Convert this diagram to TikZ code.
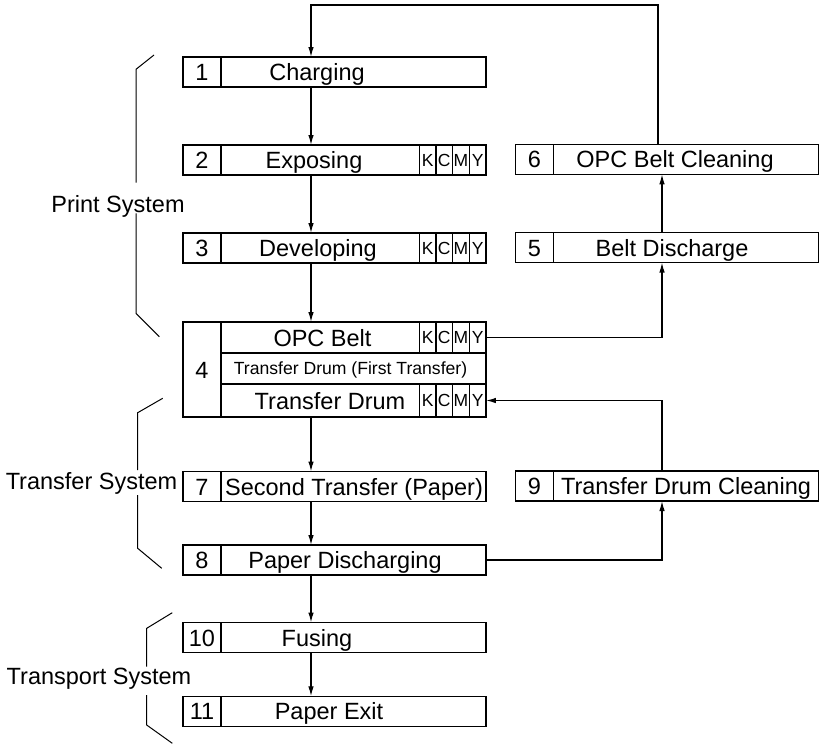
\documentclass[tikz,border=0pt]{standalone}
\usepackage{fontspec}
\setmainfont{Liberation Sans}
\usetikzlibrary{arrows.meta,positioning}

\begin{document}
\begin{tikzpicture}[x=1pt, y=-1pt, line width=1.2pt,
    every node/.style={outer sep=0pt},
    font=\fontsize{23.5}{28}\selectfont,
    lbl/.style={inner sep=0pt, text height=17, text depth=0},
    box/.style={draw, minimum width=303, minimum height=30, inner sep=0pt},
    num/.style={draw, lbl, minimum width=38, minimum height=30, anchor=west},
    row/.style={draw, minimum width=265, inner sep=0pt},
    ink/.style={draw, minimum width=16.67, inner sep=0pt, anchor=north west, font=\fontsize{17.5}{19}\selectfont},
    flow/.style={-{Latex[length=10pt,width=5.5pt]}},
    bracket/.style={line width=1pt}]
  \useasboundingbox (0,0) rectangle (821,747);
  \coordinate (spine) at (311,0);
  \coordinate (rise) at (662,0);
  \coordinate (loop) at (658,5);

  \foreach \n/\x/\y/\tx/\txt in {1/334.5/72/317/Charging, 2/334.5/160/314/Exposing,
      3/334.5/248/318/Developing, 6/667/159.3/675/OPC Belt Cleaning,
      5/667/247.5/672/Belt Discharge, 7/334.5/486.5/354/{Second Transfer (Paper)},
      9/667/486/686/Transfer Drum Cleaning, 8/334.5/560/345/Paper Discharging,
      10/334.5/637.5/317/Fusing, 11/334.5/711.3/329/Paper Exit}{
    \node[box] (b\n) at (\x,\y) {};
    \node[num] (n\n) at (b\n.west) {\n};
    \node[lbl] (t\n) at (\tx,\y) {\txt};
  }

  \node[box, minimum height=95] (b4) at (334.5,369.5) {};
  \node[num, minimum height=95] (n4) at (b4.west) {4};
  \node[row, minimum height=31, anchor=north west] (r4a) at (n4.north east) {};
  \node[row, minimum height=31, below=0pt of r4a] (r4b) {};
  \node[row, minimum height=33, below=0pt of r4b] (r4c) {};
  \node[lbl] (t4a) at (322.5,337.5) {OPC Belt};
  \node[lbl, font=\fontsize{17.6}{20}\selectfont, text height=12.6] (t4b) at (350.5,368.5) {Transfer Drum (First Transfer)};
  \node[lbl] (t4c) at (330,400.5) {Transfer Drum};

  \foreach \r/\yt/\h in {2/145/30, 3/233/30, 4a/322/31, 4c/384/33}
    \foreach \c [count=\i from 0] in {K,C,M,Y}
      \node[ink, minimum height=\h] (k\r\c) at ({419.3+\i*16.67},\yt) {\c};

  \foreach \a/\b in {1/2, 2/3, 3/4, 4/7, 7/8, 8/10, 10/11}
    \draw[flow] (b\a.south -| spine) -- (b\b.north -| spine);

  \draw[flow] (k4aY.east) -| (b5.south -| rise);
  \draw[flow] (b5.north -| rise) -- (b6.south -| rise);
  \draw[flow] (b6.north -| loop) -- (loop) -| (b1.north -| spine);
  \draw[flow] (b8.east) -| (b9.south -| rise);
  \draw[flow] (b9.north -| rise) |- (k4cY.east);

  \node[lbl] (print) at (118,203.7) {Print System};
  \node[lbl] (transfer) at (91.5,480.5) {Transfer System};
  \node[lbl] (transport) at (99,675.8) {Transport System};

  \draw[bracket] (154,55) -- (136,69.3) -- (136,182.7);
  \draw[bracket] (136,213.3) -- (136,313.3) -- (159.3,336.7);
  \draw[bracket] (162.7,398.3) -- (137.7,412.7) -- (137.7,470);
  \draw[bracket] (137.7,495) -- (137.7,548.3) -- (161.7,568.3);
  \draw[bracket] (172.3,612.7) -- (146.7,628.3) -- (146.7,666.7);
  \draw[bracket] (146.7,695) -- (146.7,725) -- (172.3,743.3);
\end{tikzpicture}
\end{document}
